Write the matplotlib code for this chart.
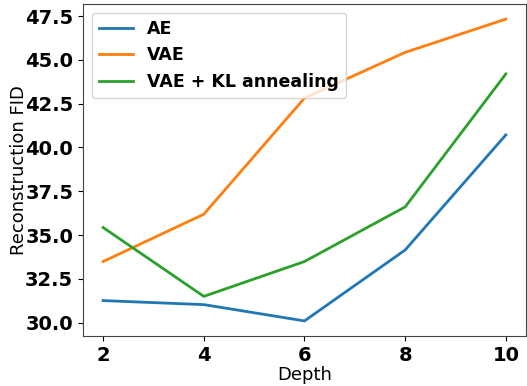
import numpy as np
import matplotlib
matplotlib.use('Agg')
import matplotlib.pyplot as plt

depth = [2, 4, 6, 8, 10]
ae = [31.26, 31.03, 30.1, 34.15, 40.72]
vae = [33.49, 36.19, 42.82, 45.43, 47.33]
vae_kl = [35.43, 31.5, 33.49, 36.61, 44.2]

fig = plt.figure(figsize=(5.27, 3.86), dpi=100)
ax = fig.add_axes([83/527, 1-336/386, 443/527, 332/386])

ax.plot(depth, ae, label='AE', lw=2)
ax.plot(depth, vae, label='VAE', lw=2)
ax.plot(depth, vae_kl, label='VAE + KL annealing', lw=2)

ax.set_xticks(depth)
for lbl in ax.get_xticklabels() + ax.get_yticklabels():
    lbl.set_fontweight('bold')
ax.tick_params(labelsize=14)
ax.set_xlabel('Depth', fontsize=13, labelpad=1)
ax.set_ylabel('Reconstruction FID', fontsize=13, labelpad=-2)
for s in ax.spines.values():
    s.set_color('#444444')
ax.legend(loc='upper left', prop={'weight': 'bold', 'size': 12.5})

fig.savefig('out.png', dpi=100)
